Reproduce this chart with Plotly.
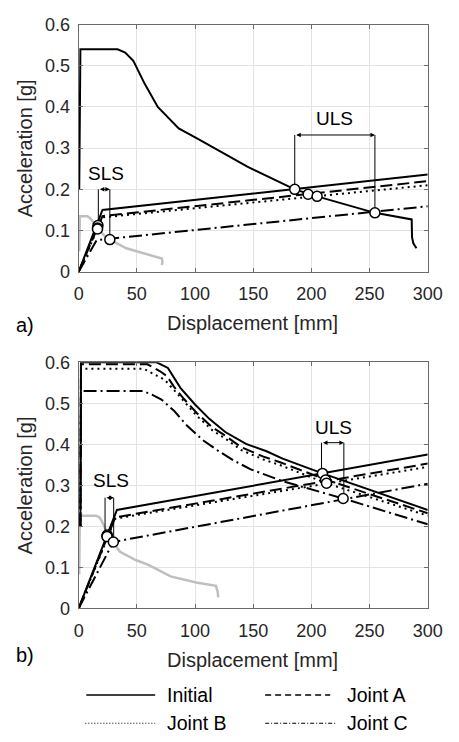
import plotly.graph_objects as go

# ---------------- Panel a) data ----------------
a_dem_x = [0.5, 1.5, 33.5, 40, 47, 57, 68, 86, 101.7, 126, 145, 185.7, 197.2, 204.9, 254.6, 283.5, 286.2, 286.5, 287.6, 290.3]
a_dem_y = [0.20, 0.54, 0.54, 0.532, 0.512, 0.455, 0.40, 0.348, 0.324, 0.285, 0.255, 0.200, 0.189, 0.183, 0.143, 0.128, 0.127, 0.084, 0.069, 0.057]

a_sls_x = [0.5, 1, 7.5, 10, 13.7, 16.5, 19, 22, 26.8, 35, 41, 52, 60, 71.5, 72, 71.5]
a_sls_y = [0.05, 0.135, 0.135, 0.13, 0.116, 0.107, 0.097, 0.088, 0.078, 0.065, 0.057, 0.048, 0.042, 0.032, 0.025, 0.016]

a_cap_init_x = [0, 20.5, 300]
a_cap_init_y = [0, 0.150, 0.236]
a_cap_A_x = [0, 20.5, 300]
a_cap_A_y = [0, 0.135, 0.220]
a_cap_B_x = [0, 20.5, 300]
a_cap_B_y = [0, 0.132, 0.210]
a_cap_C_x = [0, 15.5, 300]
a_cap_C_y = [0, 0.077, 0.159]

a_pt_sls_x = [16.6, 16.2, 16.2, 26.8]
a_pt_sls_y = [0.112, 0.106, 0.104, 0.078]
a_pt_uls_x = [185.7, 197.2, 204.9, 254.6]
a_pt_uls_y = [0.200, 0.188, 0.183, 0.143]

a_br_sls_x = [16.9, 26.8]
a_br_sls_y0 = [0.112, 0.078]
a_br_sls_top = 0.200
a_br_uls_x = [185.7, 254.6]
a_br_uls_y0 = [0.200, 0.143]
a_br_uls_top = 0.332
a_lbl_sls = (23.3, 0.238)
a_lbl_uls = (219.9, 0.372)

# ---------------- Panel b) data ----------------
b_dem_init_x = [1.5, 2, 67, 76.7, 87.6, 100, 112.3, 126, 143.8, 161.5, 175.3, 209.5, 300]
b_dem_init_y = [0.20, 0.60, 0.60, 0.586, 0.537, 0.497, 0.462, 0.430, 0.401, 0.383, 0.365, 0.329, 0.240]
b_dem_A_x = [1.5, 2, 59, 64, 70, 76, 82, 90.4, 101.3, 115, 126, 139.7, 158.8, 172.5, 212.2, 300]
b_dem_A_y = [0.20, 0.595, 0.595, 0.588, 0.578, 0.566, 0.540, 0.511, 0.477, 0.441, 0.421, 0.393, 0.370, 0.357, 0.314, 0.232]
b_dem_B_x = [1.5, 2, 56, 60, 66, 74, 82, 90.4, 101.3, 115, 126, 139.7, 158.8, 172.5, 213, 300]
b_dem_B_y = [0.20, 0.584, 0.584, 0.578, 0.568, 0.557, 0.532, 0.504, 0.470, 0.434, 0.414, 0.386, 0.363, 0.350, 0.305, 0.226]
b_dem_C_x = [1.5, 2, 55, 63, 71.2, 82.2, 93, 106.8, 120.5, 134.2, 147.9, 167, 175.3, 227.3, 300]
b_dem_C_y = [0.20, 0.530, 0.530, 0.521, 0.509, 0.481, 0.446, 0.410, 0.383, 0.359, 0.339, 0.318, 0.310, 0.268, 0.205]

b_sls_x = [0.5, 1, 15, 17.8, 20, 21.9, 24.6, 27, 29.8, 35.6, 49, 60, 79, 101, 118, 119.5, 120]
b_sls_y = [0.083, 0.226, 0.226, 0.222, 0.212, 0.201, 0.181, 0.168, 0.160, 0.138, 0.118, 0.106, 0.078, 0.063, 0.055, 0.040, 0.027]

b_cap_init_x = [0, 32.9, 300]
b_cap_init_y = [0, 0.240, 0.375]
b_cap_A_x = [0, 31.5, 300]
b_cap_A_y = [0, 0.222, 0.353]
b_cap_B_x = [0, 31.5, 300]
b_cap_B_y = [0, 0.219, 0.345]
b_cap_C_x = [0, 29.8, 300]
b_cap_C_y = [0, 0.162, 0.304]

b_pt_sls_x = [24.6, 24.4, 24.4, 29.8]
b_pt_sls_y = [0.179, 0.176, 0.175, 0.162]
b_pt_uls_x = [209.5, 212.2, 213.0, 227.3]
b_pt_uls_y = [0.329, 0.313, 0.305, 0.268]

b_br_sls_x = [22.7, 30.1]
b_br_sls_y0 = [0.179, 0.162]
b_br_sls_top = 0.270
b_br_uls_x = [208.7, 227.9]
b_br_uls_y0 = [0.329, 0.268]
b_br_uls_top = 0.404
b_lbl_sls = (27.8, 0.311)
b_lbl_uls = (219.0, 0.442)

x_ticks = [0, 50, 100, 150, 200, 250, 300]
y_ticks = [0, 0.1, 0.2, 0.3, 0.4, 0.5, 0.6]
y_tick_text = ["0", "0.1", "0.2", "0.3", "0.4", "0.5", "0.6"]
series_names = ["Initial", "Joint A", "Joint B", "Joint C"]

FONT = "Liberation Sans, Arial, sans-serif"
TXT = "#262626"
W, H = 459, 742

DASH = {"Initial": "solid", "Joint A": "12px,5px", "Joint B": "2px,4px", "Joint C": "13px,4px,2px,4px"}

fig = go.Figure()


def line(x, y, xa, ya, dash="solid", color="black", width=2):
    fig.add_trace(go.Scatter(x=x, y=y, mode="lines", xaxis=xa, yaxis=ya,
                             line=dict(color=color, width=width, dash=dash),
                             hoverinfo="skip", showlegend=False))


def points(x, y, xa, ya):
    fig.add_trace(go.Scatter(x=x, y=y, mode="markers", xaxis=xa, yaxis=ya,
                             marker=dict(size=10, color="white", line=dict(color="black", width=1.5)),
                             hoverinfo="skip", showlegend=False, cliponaxis=False))


def bracket(bx, by0, top, lbl, label, xa, ya):
    fig.add_trace(go.Scatter(x=[bx[0], bx[0], None, bx[1], bx[1]],
                             y=[by0[0], top, None, by0[1], top],
                             mode="lines", xaxis=xa, yaxis=ya,
                             line=dict(color="black", width=1), hoverinfo="skip", showlegend=False))
    fig.add_annotation(x=bx[1], y=top, ax=bx[0], ay=top, xref=xa, yref=ya,
                       axref=xa, ayref=ya, text="", showarrow=True,
                       arrowhead=2, arrowside="end+start", arrowsize=0.9, arrowwidth=1,
                       arrowcolor="black")
    fig.add_annotation(x=lbl[0], y=lbl[1], xref=xa, yref=ya, text=label,
                       xanchor="center", yanchor="middle",
                       showarrow=False, font=dict(family=FONT, size=19, color="black"))


# Panel a
line(a_sls_x, a_sls_y, "x", "y", color="#bfbfbf", width=2.5)
line(a_dem_x, a_dem_y, "x", "y")
for name, (cx, cy) in zip(series_names, [(a_cap_init_x, a_cap_init_y), (a_cap_A_x, a_cap_A_y),
                                         (a_cap_B_x, a_cap_B_y), (a_cap_C_x, a_cap_C_y)]):
    line(cx, cy, "x", "y", dash=DASH[name])
bracket(a_br_sls_x, a_br_sls_y0, a_br_sls_top, a_lbl_sls, "SLS", "x", "y")
bracket(a_br_uls_x, a_br_uls_y0, a_br_uls_top, a_lbl_uls, "ULS", "x", "y")
points(a_pt_sls_x, a_pt_sls_y, "x", "y")
points(a_pt_uls_x, a_pt_uls_y, "x", "y")

# Panel b
line(b_sls_x, b_sls_y, "x2", "y2", color="#bfbfbf", width=2.5)
for name, (dx, dy) in zip(series_names, [(b_dem_init_x, b_dem_init_y), (b_dem_A_x, b_dem_A_y),
                                         (b_dem_B_x, b_dem_B_y), (b_dem_C_x, b_dem_C_y)]):
    line(dx, dy, "x2", "y2", dash=DASH[name])
for name, (cx, cy) in zip(series_names, [(b_cap_init_x, b_cap_init_y), (b_cap_A_x, b_cap_A_y),
                                         (b_cap_B_x, b_cap_B_y), (b_cap_C_x, b_cap_C_y)]):
    line(cx, cy, "x2", "y2", dash=DASH[name])
bracket(b_br_sls_x, b_br_sls_y0, b_br_sls_top, b_lbl_sls, "SLS", "x2", "y2")
bracket(b_br_uls_x, b_br_uls_y0, b_br_uls_top, b_lbl_uls, "ULS", "x2", "y2")
points(b_pt_sls_x, b_pt_sls_y, "x2", "y2")
points(b_pt_uls_x, b_pt_uls_y, "x2", "y2")

xdom = [77 / W, 442 / W]
ydom_a = [1 - 269 / H, 1 - 15 / H]
ydom_b = [1 - 615 / H, 1 - 362 / H]

common_x = dict(range=[0, 300], tickvals=x_ticks, ticks="inside", ticklen=4, tickcolor="#6b6b6b",
                showgrid=True, gridcolor="#e3e3e3", gridwidth=1, showline=True, linecolor="#6b6b6b",
                linewidth=1, mirror="allticks", zeroline=False, fixedrange=True,
                ticklabelstandoff=6,
                tickfont=dict(family=FONT, size=18, color=TXT))
common_y = dict(range=[0, 0.6], tickvals=y_ticks, ticktext=y_tick_text, ticks="inside", ticklen=4,
                tickcolor="#6b6b6b", showgrid=True, gridcolor="#e3e3e3", gridwidth=1, showline=True,
                linecolor="#6b6b6b", linewidth=1, mirror="allticks", zeroline=False, fixedrange=True,
                ticklabelstandoff=4,
                tickfont=dict(family=FONT, size=18, color=TXT))

fig.update_layout(
    width=W, height=H, margin=dict(l=0, r=0, t=0, b=0),
    plot_bgcolor="white", paper_bgcolor="white", showlegend=False,
    xaxis=dict(domain=xdom, anchor="y", **common_x),
    yaxis=dict(domain=ydom_a, anchor="x", **common_y),
    xaxis2=dict(domain=xdom, anchor="y2", **common_x),
    yaxis2=dict(domain=ydom_b, anchor="x2", **common_y),
)

# axis titles and panel labels
for yc in [142, 488.5]:
    fig.add_annotation(x=21 / W, y=1 - yc / H, xref="paper", yref="paper", text="Acceleration [g]",
                       textangle=-90, xanchor="center", yanchor="middle",
                       showarrow=False, font=dict(family=FONT, size=20, color=TXT))
for yc in [322, 668]:
    fig.add_annotation(x=259 / W, y=1 - yc / H, xref="paper", yref="paper", text="Displacement [mm]",
                       xanchor="center", yanchor="middle",
                       showarrow=False, font=dict(family=FONT, size=20, color=TXT))
for txt, yc in [("a)", 324), ("b)", 663)]:
    fig.add_annotation(x=21 / W, y=1 - yc / H, xref="paper", yref="paper", text=txt,
                       xanchor="center", yanchor="middle",
                       showarrow=False, font=dict(family=FONT, size=20, color="black"))

# manual legend
leg = [("Initial", 85, 157, 167, 704, "solid", 1.6),
       ("Joint A", 272, 340, 355, 704, "6px,4px", 1.6),
       ("Joint B", 84, 157, 167, 733, "1px,2px", 1.2),
       ("Joint C", 272, 347, 355, 733, "4px,2px,1px,2px", 1.2)]
for name, x0, x1, xt, yc, dash, wd in leg:
    fig.add_shape(type="line", xref="paper", yref="paper", x0=x0 / W, x1=x1 / W,
                  y0=1 - yc / H, y1=1 - yc / H, line=dict(color="black", width=wd, dash=dash))
    fig.add_annotation(x=xt / W, y=1 - yc / H, xref="paper", yref="paper", text=name,
                       xanchor="left", yanchor="middle",
                       showarrow=False, font=dict(family=FONT, size=19.5, color="black"))

fig.write_html("out.html")
